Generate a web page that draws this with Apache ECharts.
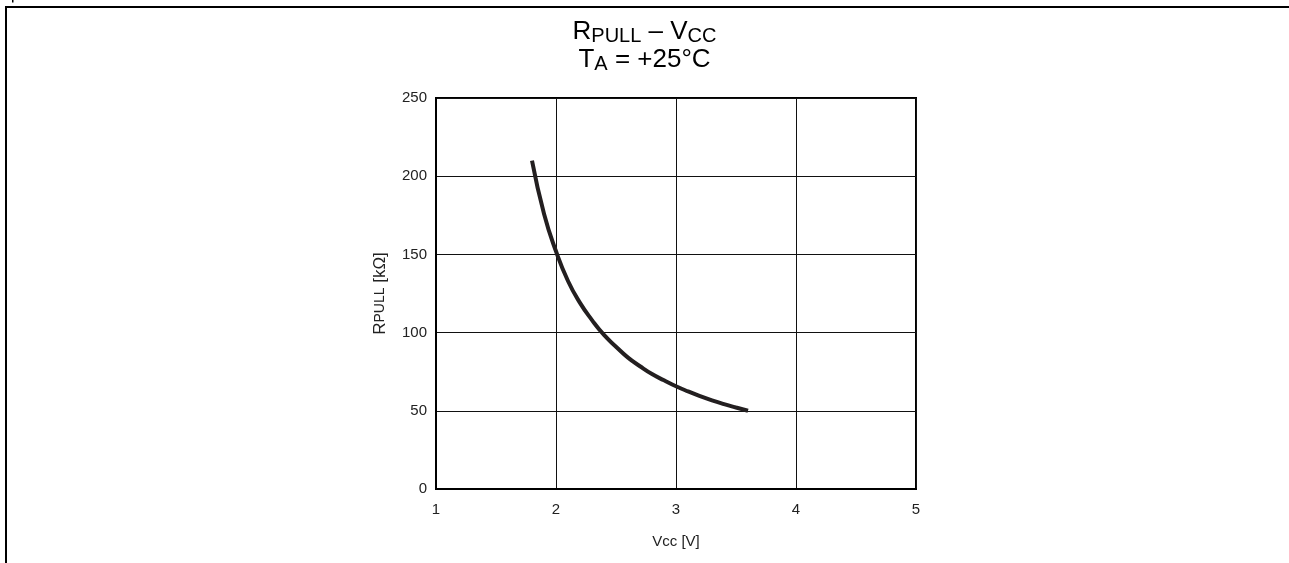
<!DOCTYPE html>
<html>
<head>
<meta charset="utf-8">
<script src="https://cdn.jsdelivr.net/npm/echarts@6/dist/echarts.min.js"></script>
<style>
html,body{margin:0;padding:0;background:#fff;}
#chart{width:1289px;height:563px;}
</style>
</head>
<body>
<div id="chart"></div>
<script>
// Data
var vcc = [1.8, 1.9, 2.0, 2.1, 2.2, 2.3, 2.4, 2.5, 2.6, 2.7, 2.8, 2.9, 3.0, 3.1, 3.2, 3.3, 3.4, 3.5, 3.6];
var rpull = [210, 176, 152, 133, 119, 108, 98.5, 91, 84, 78.5, 73.5, 69.5, 65.7, 62.4, 59.4, 56.7, 54.3, 52.1, 50];
var xTicks = [1, 2, 3, 4, 5];
var yTicks = [0, 50, 100, 150, 200, 250];

var chart = echarts.init(document.getElementById('chart'), null, {renderer: 'canvas'});
var FONT = 'Liberation Sans, Arial, sans-serif';
var seriesData = vcc.map(function (v, i) { return [v, rpull[i]]; });

chart.setOption({
  animation: false,
  backgroundColor: '#fff',
  title: {
    text: '{n|R}{s|PULL}{n| \u2013 V}{s|CC}\n{n|T}{s|A}{n| = +25\u00B0C}',
    left: 'center',
    top: 13,
    textStyle: {
      fontWeight: 'normal',
      rich: {
        n: {fontFamily: FONT, fontSize: 26, fontWeight: 'normal', color: '#000', lineHeight: 28},
        s: {fontFamily: FONT, fontSize: 20, fontWeight: 'normal', color: '#000', lineHeight: 11, verticalAlign: 'bottom'}
      }
    }
  },
  grid: {
    left: 436, right: 373, top: 98, bottom: 74,
    show: true, borderColor: '#000', borderWidth: 2
  },
  xAxis: {
    type: 'value', min: 1, max: 5, interval: 1,
    name: 'Vcc [V]', nameLocation: 'middle', nameGap: 45,
    nameTextStyle: {fontFamily: FONT, fontSize: 15, color: '#222'},
    axisLine: {show: true, lineStyle: {color: '#000', width: 2}},
    axisTick: {show: false},
    axisLabel: {fontFamily: FONT, fontSize: 15, color: '#222', margin: 13,
      formatter: function (v) { return xTicks.indexOf(v) >= 0 ? String(v) : ''; }},
    splitLine: {show: true, lineStyle: {color: '#111', width: 1}}
  },
  yAxis: {
    type: 'value', min: 0, max: 250, interval: 50,
    name: '{r|R}{p|PULL}{r| [k\u03A9]}', nameLocation: 'middle', nameGap: 47, nameRotate: 90,
    nameTextStyle: {
      rich: {
        r: {fontFamily: FONT, fontSize: 17, color: '#222'},
        p: {fontFamily: FONT, fontSize: 14, color: '#222'}
      }
    },
    axisLine: {show: true, lineStyle: {color: '#000', width: 2}},
    axisTick: {show: false},
    axisLabel: {fontFamily: FONT, fontSize: 15, color: '#222', margin: 9,
      formatter: function (v) { return yTicks.indexOf(v) >= 0 ? String(v) : ''; }},
    splitLine: {show: true, lineStyle: {color: '#111', width: 1}}
  },
  series: [{
    type: 'line',
    data: seriesData,
    smooth: true,
    showSymbol: false,
    lineStyle: {color: '#231f20', width: 4}
  }],
  graphic: [
    {type: 'rect', shape: {x: 6, y: 7, width: 1300, height: 600},
     style: {fill: 'none', stroke: '#000', lineWidth: 2}, silent: true},
    {type: 'rect', shape: {x: 12, y: 0, width: 1.5, height: 2.5},
     style: {fill: '#000'}, silent: true}
  ]
});
</script>
</body>
</html>
